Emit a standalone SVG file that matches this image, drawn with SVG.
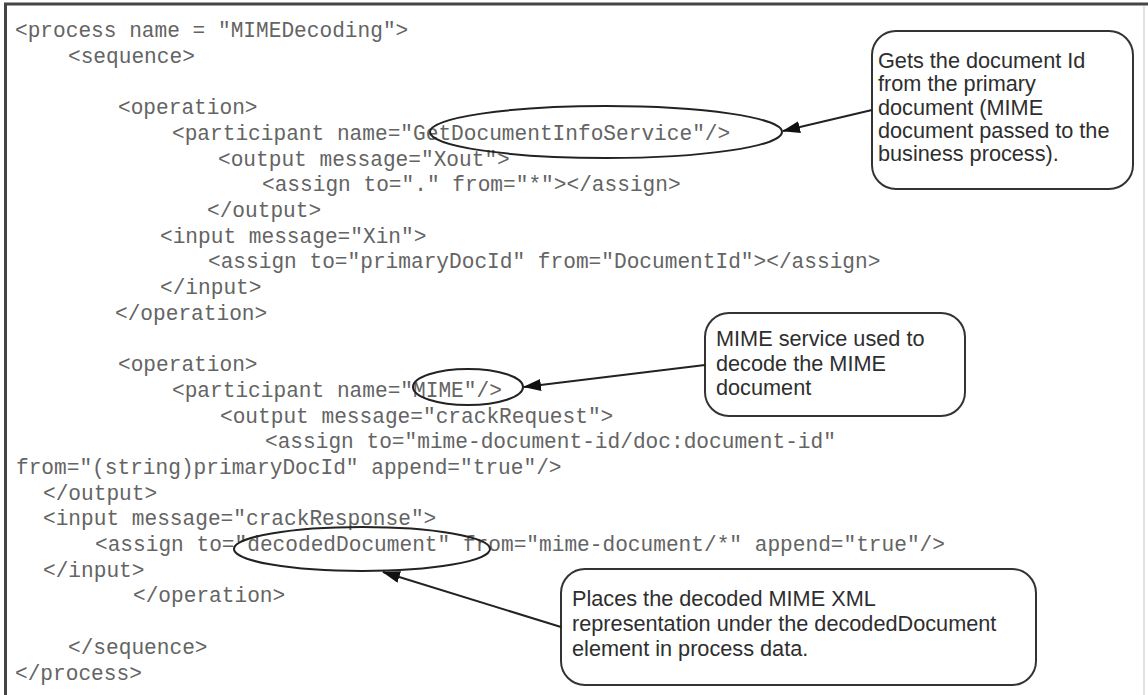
<svg xmlns="http://www.w3.org/2000/svg" width="1148" height="695" viewBox="0 0 1148 695">
  <style>
    .code { font-family: "Liberation Mono", "Courier New", monospace; font-size: 21.15px; fill: #646464; white-space: pre; }
    .note { font-family: "Liberation Sans", Arial, sans-serif; font-size: 21.7px; fill: #2e2e2e; }
    .box { fill: #ffffff; stroke: #333333; stroke-width: 2; }
    .ring { fill: none; stroke: #222222; stroke-width: 2; }
    .link { fill: none; stroke: #222222; stroke-width: 2; }
  </style>
  <defs>
    <marker id="arrow" viewBox="0 0 18 12" refX="17" refY="6" markerWidth="18" markerHeight="12" markerUnits="userSpaceOnUse" orient="auto">
      <path d="M0,0 L18,6 L0,12 Z" fill="#111111"/>
    </marker>
  </defs>

  <!-- page background and frame -->
  <rect x="0" y="0" width="1148" height="695" fill="#ffffff"/>
  <line x1="4" y1="4" x2="1148" y2="4" stroke="#444444" stroke-width="3"/>
  <line x1="5.5" y1="3" x2="5.5" y2="695" stroke="#444444" stroke-width="3"/>
  <line x1="1144" y1="6" x2="1144" y2="695" stroke="#e2e2e2" stroke-width="2"/>

  <!-- process definition listing -->
  <g id="listing">
    <text class="code" x="15" y="37">&lt;process name = "MIMEDecoding"&gt;</text>
    <text class="code" x="68" y="62.7">&lt;sequence&gt;</text>
    <text class="code" x="118" y="114.1">&lt;operation&gt;</text>
    <text class="code" x="172" y="139.8">&lt;participant name="GetDocumentInfoService"/&gt;</text>
    <text class="code" x="218" y="165.5">&lt;output message="Xout"&gt;</text>
    <text class="code" x="262" y="191.2">&lt;assign to="." from="*"&gt;&lt;/assign&gt;</text>
    <text class="code" x="207" y="216.9">&lt;/output&gt;</text>
    <text class="code" x="160" y="242.6">&lt;input message="Xin"&gt;</text>
    <text class="code" x="208" y="268.3">&lt;assign to="primaryDocId" from="DocumentId"&gt;&lt;/assign&gt;</text>
    <text class="code" x="160" y="294">&lt;/input&gt;</text>
    <text class="code" x="115" y="319.7">&lt;/operation&gt;</text>
    <text class="code" x="118" y="371.1">&lt;operation&gt;</text>
    <text class="code" x="172" y="396.8">&lt;participant name="MIME"/&gt;</text>
    <text class="code" x="220" y="422.5">&lt;output message="crackRequest"&gt;</text>
    <text class="code" x="265" y="448.2">&lt;assign to="mime-document-id/doc:document-id"</text>
    <text class="code" x="16" y="473.9">from="(string)primaryDocId" append="true"/&gt;</text>
    <text class="code" x="43" y="499.6">&lt;/output&gt;</text>
    <text class="code" x="43" y="525.3">&lt;input message="crackResponse"&gt;</text>
    <text class="code" x="95" y="551">&lt;assign to="decodedDocument" from="mime-document/*" append="true"/&gt;</text>
    <text class="code" x="43" y="576.7">&lt;/input&gt;</text>
    <text class="code" x="133" y="602.4">&lt;/operation&gt;</text>
    <text class="code" x="68" y="653.8">&lt;/sequence&gt;</text>
    <text class="code" x="15" y="679.5">&lt;/process&gt;</text>
  </g>

  <!-- highlighted names -->
  <g id="mark-docinfo"><ellipse class="ring" cx="606" cy="132" rx="176" ry="26"/></g>
  <g id="mark-mime"><ellipse class="ring" cx="468" cy="387" rx="55" ry="18"/></g>
  <g id="mark-decoded"><ellipse class="ring" cx="362" cy="549" rx="128" ry="22"/></g>

  <!-- callouts -->
  <g id="note-docinfo">
    <rect class="box" x="872" y="31" width="261" height="158" rx="24" ry="24"/>
    <text class="note" x="878" y="68">Gets the document Id</text>
    <text class="note" x="878" y="91.3">from the primary</text>
    <text class="note" x="878" y="114.6">document (MIME</text>
    <text class="note" x="878" y="137.9">document passed to the</text>
    <text class="note" x="878" y="161.2">business process).</text>
  </g>
  <g id="note-mime">
    <rect class="box" x="705" y="313" width="260" height="103" rx="24" ry="24"/>
    <text class="note" x="716" y="346">MIME service used to</text>
    <text class="note" x="716" y="370.5">decode the MIME</text>
    <text class="note" x="716" y="395">document</text>
  </g>
  <g id="note-decoded">
    <rect class="box" x="561" y="569" width="475" height="116" rx="24" ry="24"/>
    <text class="note" x="572" y="606">Places the decoded MIME XML</text>
    <text class="note" x="572" y="631">representation under the decodedDocument</text>
    <text class="note" x="572" y="656">element in process data.</text>
  </g>

  <!-- connectors -->
  <g id="connectors">
    <line class="link" x1="872" y1="110" x2="783" y2="131" marker-end="url(#arrow)"/>
    <line class="link" x1="705" y1="365" x2="524" y2="387" marker-end="url(#arrow)"/>
    <line class="link" x1="561" y1="627" x2="383" y2="572" marker-end="url(#arrow)"/>
  </g>
</svg>
